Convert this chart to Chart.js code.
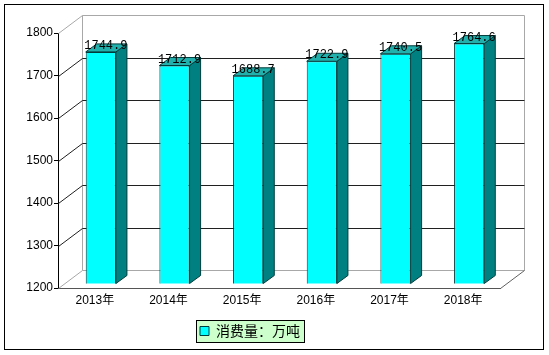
<!DOCTYPE html>
<html>
<head>
<meta charset="utf-8">
<script src="https://cdn.jsdelivr.net/npm/chart.js@4"></script>
<style>
html,body{margin:0;padding:0;background:#fff}
#wrap{width:549px;height:355px}
</style>
</head>
<body>
<div id="wrap"><canvas id="c" width="549" height="355"></canvas></div>
<script>
let years=["2013年","2014年","2015年","2016年","2017年","2018年"]
let consumption=[1744.9,1712.9,1688.7,1722.9,1740.5,1764.6]
let seriesName="消费量：万吨"
let yTicks=[1200,1300,1400,1500,1600,1700,1800]

// depth offsets of the fake 3d box
let wallDx=24, wallDy=-18
let barDx=6, barDy=-4.5
let sideDx=11, sideDy=-8

function line(ctx,x1,y1,x2,y2){
ctx.beginPath()
ctx.moveTo(x1,y1)
ctx.lineTo(x2,y2)
ctx.stroke()
}

function poly(ctx,pts,fill,stroke){
ctx.beginPath()
ctx.moveTo(pts[0][0],pts[0][1])
for(let i=1;i<pts.length;i++) ctx.lineTo(pts[i][0],pts[i][1])
ctx.closePath()
ctx.fillStyle=fill
ctx.fill()
ctx.strokeStyle=stroke
ctx.lineWidth=1
ctx.stroke()
}

let box3d={
id:"box3d",

beforeDraw(chart){
let ctx=chart.ctx
ctx.save()
ctx.strokeStyle="#000"
ctx.lineWidth=1
ctx.strokeRect(4.5,4.5,539,345)

let hb=chart.legend.legendHitBoxes[0]
if(hb){
ctx.fillStyle="#ccffcc"
ctx.fillRect(hb.left-4,hb.top-4,hb.width+8,hb.height+8)
ctx.strokeStyle="#000"
ctx.strokeRect(Math.round(hb.left-4)+0.5,Math.round(hb.top-4)+0.5,Math.round(hb.width+8),Math.round(hb.height+8))
}
ctx.restore()
},

beforeDatasetsDraw(chart){
let ctx=chart.ctx
let a=chart.chartArea
let ys=chart.scales.y
let L=Math.round(a.left)+0.5, R=Math.round(a.right)+0.5
let T=Math.round(a.top)+0.5, B=Math.round(a.bottom)+0.5

ctx.save()
ctx.lineWidth=1
ctx.strokeStyle="#a8a8a8"
line(ctx,L+wallDx,T+wallDy,L+wallDx,B+wallDy)
line(ctx,R+wallDx,T+wallDy,R+wallDx,B+wallDy)
line(ctx,L+wallDx,T+wallDy,R+wallDx,T+wallDy)
line(ctx,L,T,L+wallDx,T+wallDy)
line(ctx,L+wallDx,B+wallDy,R+wallDx,B+wallDy)
line(ctx,L,B,L+wallDx,B+wallDy)
ctx.strokeStyle="#606060"
line(ctx,R,B,R+wallDx,B+wallDy)

ctx.strokeStyle="#202020"
yTicks.slice(1,-1).forEach(v=>{
let py=Math.round(ys.getPixelForValue(v))+0.5
line(ctx,L,py,L+wallDx,py+wallDy)
line(ctx,L+wallDx,py+wallDy,R+wallDx,py+wallDy)
})
ctx.restore()

ctx.save()
ctx.translate(barDx,barDy)
},

afterDatasetsDraw(chart){
let ctx=chart.ctx
let meta=chart.getDatasetMeta(0)
let bottom=chart.scales.y.getPixelForValue(yTicks[0])
meta.data.forEach((bar,i)=>{
let p=bar.getProps(["x","y","base","width"],true)
let l=p.x-p.width/2, r=p.x+p.width/2
let b=Math.min(p.base,bottom)
poly(ctx,[[r,p.y],[r+sideDx,p.y+sideDy],[r+sideDx,b+sideDy],[r,b]],"#008080","#003c3c")
poly(ctx,[[l,p.y],[l+sideDx,p.y+sideDy],[r+sideDx,p.y+sideDy],[r,p.y]],"#22b0ac","#003c3c")
})
ctx.fillStyle="#000"
ctx.font="12px 'Liberation Mono', monospace"
ctx.textAlign="center"
ctx.textBaseline="middle"
meta.data.forEach((bar,i)=>{
ctx.fillText(consumption[i].toFixed(1),bar.x+5,bar.y-6)
})
ctx.restore()
}
}

new Chart(document.getElementById("c"),{
type:"bar",
data:{
labels:years,
datasets:[{
label:seriesName,
data:consumption,
backgroundColor:"#00ffff",
borderColor:"#003c3c",
borderWidth:1,
categoryPercentage:1,
barPercentage:0.41
}]
},
options:{
responsive:false,
animation:false,
devicePixelRatio:1,
layout:{padding:{left:0,right:49,top:33,bottom:7}},
plugins:{
legend:{
position:"bottom",
labels:{
boxWidth:9,
boxHeight:9,
padding:6,
color:"#000",
font:{size:14,family:"'Noto Sans CJK SC', sans-serif"}
}
},
tooltip:{enabled:false}
},
scales:{
x:{
afterFit(s){s.height=30},
grid:{display:true,drawOnChartArea:false,drawTicks:false},
border:{display:true,color:"#555"},
ticks:{padding:5,color:"#000",font:{size:12,family:"'Liberation Sans', 'Noto Sans CJK SC', sans-serif"}}
},
y:{
min:1200,
max:1800,
afterFit(s){s.width=58},
grid:{display:true,drawOnChartArea:false,drawTicks:true,tickLength:4,color:"#000"},
border:{display:true,color:"#000"},
ticks:{
stepSize:100,
padding:1,
color:"#000",
font:{size:12,family:"'Liberation Sans', sans-serif"},
callback:v=>String(v)
}
}
}
},
plugins:[box3d]
})
</script>
</body>
</html>
